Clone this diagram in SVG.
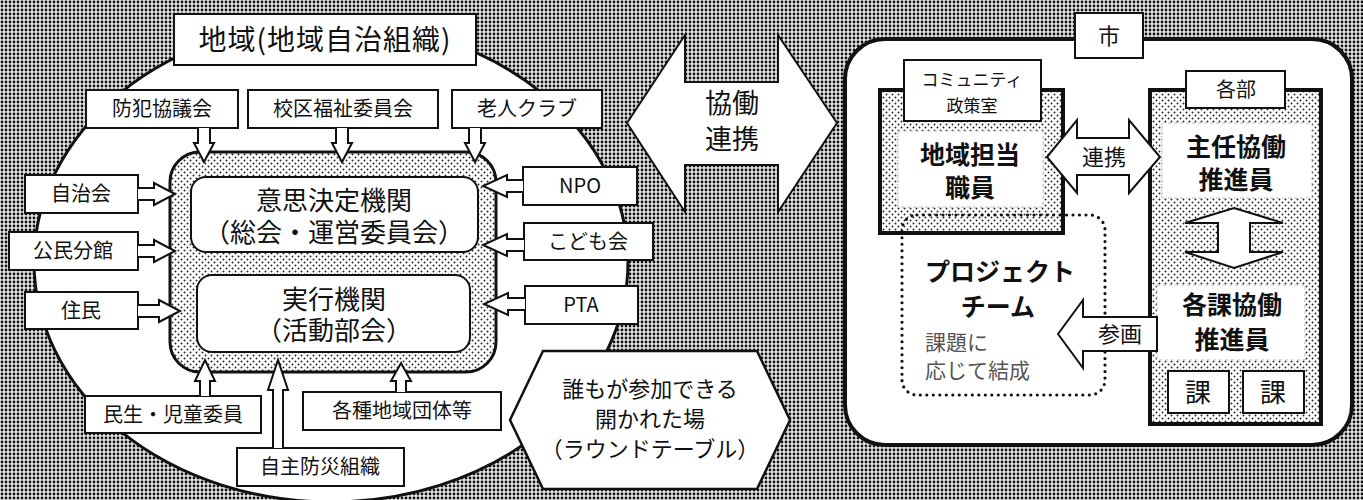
<svg xmlns="http://www.w3.org/2000/svg" width="1363" height="500" viewBox="0 0 1363 500">
<defs>
<pattern id="bg" width="4" height="4" patternUnits="userSpaceOnUse"><rect width="4" height="4" fill="#e6e6e6"/><circle cx="2" cy="2" r="1.4" fill="#111"/></pattern>
<pattern id="sp" width="6" height="6" patternUnits="userSpaceOnUse"><rect width="6" height="6" fill="#fff"/><circle cx="1.5" cy="1.5" r="0.95" fill="#222"/><circle cx="4.5" cy="4.5" r="0.95" fill="#222"/></pattern>
<style>
text{font-family:"Noto Sans CJK JP","Noto Sans",sans-serif;fill:#111;text-anchor:middle}
.box{fill:#fff;stroke:#111;stroke-width:2}
.arr{fill:#fff;stroke:#111;stroke-width:2;stroke-linejoin:miter}
.t20{font-size:20px}
.b{font-weight:bold;font-size:25px}
.inner{fill:#fff;stroke:#bbb;stroke-width:1;stroke-dasharray:3 3}
</style>
</defs>
<rect width="1363" height="500" fill="url(#bg)"/>

<g id="region">
<ellipse cx="331" cy="262" rx="297" ry="240" fill="#fff" stroke="#111" stroke-width="3"/>
</g>
<g id="title">
<rect class="box" x="174" y="14" width="302" height="51"/>
<text x="325" y="50" style="font-size:28px;letter-spacing:1px">地域(地域自治組織)</text>
</g>
<g id="core">
<rect x="170" y="152" width="326" height="220" rx="30" fill="url(#sp)" stroke="#111" stroke-width="3"/>
</g>
<g id="kettei">
<rect x="191" y="177" width="287" height="75" rx="15" fill="#fff" stroke="#111" stroke-width="2"/>
<text x="334" y="210" style="font-size:26px"><tspan x="334">意思決定機関</tspan><tspan x="334" dy="32">（総会・運営委員会）</tspan></text>
</g>
<g id="jikko">
<rect x="197" y="275" width="273" height="77" rx="15" fill="#fff" stroke="#111" stroke-width="2"/>
<text x="334" y="309" style="font-size:26px"><tspan x="334">実行機関</tspan><tspan x="334" dy="31">（活動部会）</tspan></text>
</g>

<g id="n-bohan"><rect class="box" x="86" y="90" width="152" height="38"/><text class="t20" x="162" y="116">防犯協議会</text></g>
<g id="n-koku"><rect class="box" x="248" y="90" width="190" height="38"/><text class="t20" x="343" y="116">校区福祉委員会</text></g>
<g id="n-rojin"><rect class="box" x="452" y="90" width="150" height="38"/><text class="t20" x="527" y="116">老人クラブ</text></g>
<g id="n-jichikai"><rect class="box" x="25" y="175" width="113" height="38"/><text class="t20" x="81" y="201">自治会</text></g>
<g id="n-kominkan"><rect class="box" x="9" y="232" width="129" height="38"/><text class="t20" x="73" y="258">公民分館</text></g>
<g id="n-jumin"><rect class="box" x="25" y="292" width="113" height="37"/><text class="t20" x="81" y="318">住民</text></g>
<g id="n-npo"><rect class="box" x="523" y="167" width="114" height="38"/><text class="t20" x="580" y="193">NPO</text></g>
<g id="n-kodomo"><rect class="box" x="524" y="223" width="129" height="37"/><text class="t20" x="588" y="249">こども会</text></g>
<g id="n-pta"><rect class="box" x="525" y="286" width="113" height="38"/><text class="t20" x="581" y="312">PTA</text></g>
<g id="n-minsei"><rect class="box" x="85" y="396" width="176" height="37"/><text class="t20" x="173" y="422">民生・児童委員</text></g>
<g id="n-kakushu"><rect class="box" x="303" y="392" width="198" height="38"/><text class="t20" x="402" y="418">各種地域団体等</text></g>
<g id="n-jishu"><rect class="box" x="237" y="448" width="167" height="38"/><text class="t20" x="320" y="474">自主防災組織</text></g>

<g id="roundtable">
<polygon points="510,420 543,351 757,351 790,420 757,489 543,489" fill="#fff" stroke="#111" stroke-width="2.5"/>
<text x="650" y="397" style="font-size:22px">誰もが参加できる</text>
<text x="650" y="427" style="font-size:22px">開かれた場</text>
<text x="650" y="457" style="font-size:22px">（ラウンドテーブル）</text>
</g>

<g id="city">
<rect x="845" y="39" width="507" height="406" rx="40" fill="#fff" stroke="#111" stroke-width="4"/>
<rect class="box" x="1075" y="13" width="68" height="45"/>
<text x="1109" y="44" style="font-size:22px">市</text>
</g>
<g id="chiiki-tanto">
<rect x="880" y="90" width="183" height="143" fill="url(#sp)" stroke="#111" stroke-width="4"/>
<rect class="inner" x="898" y="131" width="145" height="76"/>
<text class="b" x="970" y="164">地域担当</text>
<text class="b" x="970" y="197">職員</text>
</g>
<g id="community">
<rect class="box" x="904" y="60" width="137" height="61"/>
<text x="972" y="86" style="font-size:17px">コミュニティ</text>
<text x="972" y="112" style="font-size:17px">政策室</text>
</g>
<g id="kakubu">
<rect x="1150" y="90" width="171" height="334" fill="url(#sp)" stroke="#111" stroke-width="4"/>
<rect class="box" x="1186" y="71" width="99" height="37"/>
<text x="1236" y="97" style="font-size:20px">各部</text>
</g>
<g id="shunin">
<rect class="inner" x="1162" y="123" width="150" height="75"/>
<text class="b" x="1236" y="156">主任協働</text>
<text class="b" x="1236" y="189">推進員</text>
</g>
<g id="kakuka">
<rect class="inner" x="1157" y="285" width="148" height="75"/>
<text class="b" x="1232" y="314">各課協働</text>
<text class="b" x="1232" y="349">推進員</text>
</g>
<g id="ka1"><rect class="box" x="1168" y="371" width="61" height="42"/><text x="1198" y="402" style="font-size:26px">課</text></g>
<g id="ka2"><rect class="box" x="1243" y="371" width="61" height="42"/><text x="1273" y="402" style="font-size:26px">課</text></g>
<g id="project">
<rect x="902" y="215" width="203" height="180" rx="15" fill="none" stroke="#111" stroke-width="3.2" stroke-dasharray="0 6.5" stroke-linecap="round"/>
<text class="b" x="1000" y="281">プロジェクト</text>
<text class="b" x="998" y="316">チーム</text>
<text x="925" y="350" style="font-size:21px;text-anchor:start;fill:#555">課題に</text>
<text x="925" y="378" style="font-size:21px;text-anchor:start;fill:#555">応じて結成</text>
</g>

<g id="connectors">
<path class="arr" d="M198,128 L198,143 L194,143 L204,162 L214,143 L210,143 L210,128"/>
<path class="arr" d="M336,128 L336,143 L332,143 L342,162 L352,143 L348,143 L348,128"/>
<path class="arr" d="M469,128 L469,143 L465,143 L475,162 L485,143 L481,143 L481,128"/>
<path class="arr" d="M138,188 L154,188 L154,183 L175,194 L154,205 L154,200 L138,200"/>
<path class="arr" d="M138,245 L154,245 L154,240 L175,251 L154,262 L154,257 L138,257"/>
<path class="arr" d="M138,305 L159,305 L159,300 L180,311 L159,322 L159,317 L138,317"/>
<path class="arr" d="M523,180 L507,180 L507,175 L483,186 L507,197 L507,192 L523,192"/>
<path class="arr" d="M524,239 L507,239 L507,234 L483,245 L507,256 L507,251 L524,251"/>
<path class="arr" d="M525,298 L508,298 L508,293 L484,304 L508,315 L508,310 L525,310"/>
<path class="arr" d="M200,396 L200,381 L195,381 L205,360 L215,381 L210,381 L210,396"/>
<path class="arr" d="M273,448 L273,390 L268,390 L278,360 L288,390 L283,390 L283,448"/>
<path class="arr" d="M396,392 L396,381 L391,381 L401,363 L411,381 L406,381 L406,392"/>
<polygon class="arr" points="627,123 685,35 685,82 778,82 778,35 837,123 778,212 778,165 685,165 685,212"/>
<polygon class="arr" points="1047,157 1077,120 1077,138 1129,138 1129,120 1160,157 1129,193 1129,175 1077,175 1077,193"/>
<polygon class="arr" points="1058,334 1083,300 1083,317 1157,317 1157,351 1083,351 1083,368"/>
<polygon class="arr" points="1234,208 1283,223 1250,223 1250,252 1283,252 1234,268 1185,252 1218,252 1218,223 1185,223"/>
</g>
<g id="connector-labels">
<text x="732" y="113" style="font-size:27px">協働</text>
<text x="732" y="149" style="font-size:27px">連携</text>
<text x="1104" y="165" style="font-size:22px">連携</text>
<text x="1120" y="342" style="font-size:22px">参画</text>
</g>
</svg>
